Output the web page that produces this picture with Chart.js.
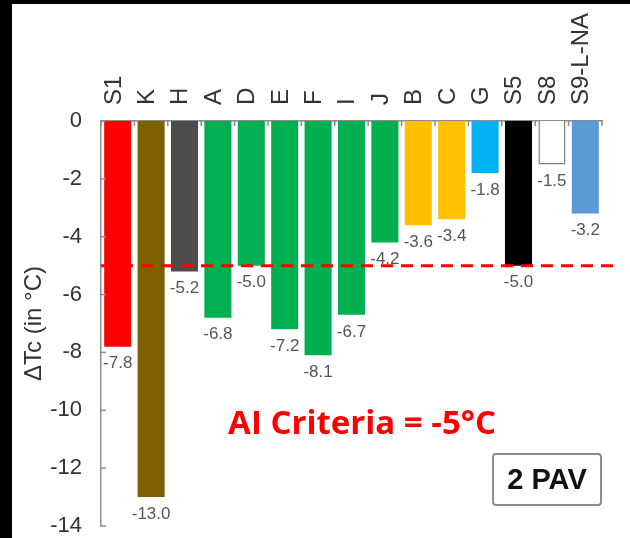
<!DOCTYPE html>
<html>
<head>
<meta charset="utf-8">
<script src="https://cdn.jsdelivr.net/npm/chart.js@4/dist/chart.umd.min.js"></script>
<style>
  html, body { margin: 0; padding: 0; background: #000; width: 630px; height: 538px; overflow: hidden; }
  #wrap { position: absolute; left: 12px; top: 4px; width: 618px; height: 534px; background: #fff; }
  canvas { display: block; }
</style>
</head>
<body>
<div id="wrap"><canvas id="chart" width="618" height="534"></canvas></div>
<script>
// Binder samples along the top axis
const categories = ['S1', 'K', 'H', 'A', 'D', 'E', 'F', 'I', 'J', 'B', 'C', 'G', 'S5', 'S8', 'S9-L-NA'];
// Change in critical temperature after 2 PAV cycles (°C)
const deltaTc = [-7.8, -13.0, -5.2, -6.8, -5.0, -7.2, -8.1, -6.7, -4.2, -3.6, -3.4, -1.8, -5.0, -1.5, -3.2];
const barColors = ['#ff0000', '#7f6000', '#4d4d4d', '#00b050', '#00b050', '#00b050', '#00b050', '#00b050',
                   '#00b050', '#ffc000', '#ffc000', '#00b0f0', '#000000', '#ffffff', '#5b9bd5'];
const barBorders = [0, 0, 0, 0, 0, 0, 0, 0, 0, 0, 0, 0, 0, 1.5, 0];
// y axis range and step
const yMin = -14, yMax = 0, yStep = 2;
// acceptance criterion
const criterion = -5;
const criterionText = 'AI Criteria = -5°C';
const conditionText = '2 PAV';

Chart.defaults.font.family = "'Liberation Sans', Arial, sans-serif";

const overlay = {
  id: 'overlay',
  afterDatasetsDraw(chart) {
    const { ctx, chartArea: a, scales: { x, y } } = chart;
    ctx.save();

    // inward tick marks on the y axis
    ctx.strokeStyle = '#8c8c8c';
    ctx.lineWidth = 1.5;
    y.ticks.forEach(t => {
      const py = y.getPixelForValue(t.value);
      ctx.beginPath();
      ctx.moveTo(a.left, py);
      ctx.lineTo(a.left + 5, py);
      ctx.stroke();
    });
    // category boundary marks hanging from the top axis
    const half = (x.getPixelForTick(1) - x.getPixelForTick(0)) / 2;
    for (let i = 0; i <= categories.length; i++) {
      const px = i < categories.length ? x.getPixelForTick(i) - half : x.getPixelForTick(i - 1) + half;
      ctx.beginPath();
      ctx.moveTo(px, a.top);
      ctx.lineTo(px, a.top + 5);
      ctx.stroke();
    }

    // criterion line
    const cy = y.getPixelForValue(criterion);
    ctx.strokeStyle = '#ff0000';
    ctx.lineWidth = 3;
    ctx.setLineDash([12, 8]);
    ctx.beginPath();
    ctx.moveTo(a.left, cy);
    ctx.lineTo(a.right + 11, cy);
    ctx.stroke();
    ctx.setLineDash([]);

    // value labels under each bar
    ctx.fillStyle = '#555';
    ctx.font = "17px 'Liberation Sans', Arial, sans-serif";
    ctx.textAlign = 'center';
    ctx.textBaseline = 'middle';
    chart.getDatasetMeta(0).data.forEach((bar, i) => {
      ctx.fillText(deltaTc[i].toFixed(1), bar.x, bar.y + 17);
    });

    // criterion note
    ctx.fillStyle = '#ff0000';
    ctx.font = "bold 33px 'Open Sans', sans-serif";
    ctx.textBaseline = 'middle';
    ctx.fillText(criterionText, a.left + (a.right - a.left) * 0.521, y.getPixelForValue(-10.5));

    // condition box
    const bw = 108, bh = 51;
    const bx = a.right - 1 - bw, by = a.bottom - 21 - bh;
    ctx.strokeStyle = '#8c8c8c';
    ctx.lineWidth = 2;
    ctx.beginPath();
    ctx.roundRect(bx, by, bw, bh, 3);
    ctx.stroke();
    ctx.fillStyle = '#111';
    ctx.font = "bold 29px 'Liberation Sans', Arial, sans-serif";
    ctx.fillText(conditionText, bx + bw / 2, by + bh / 2 + 1);

    ctx.restore();
  }
};

new Chart(document.getElementById('chart'), {
  type: 'bar',
  data: {
    labels: categories,
    datasets: [{
      data: deltaTc,
      backgroundColor: barColors,
      borderColor: '#7f7f7f',
      borderWidth: barBorders,
      categoryPercentage: 0.81,
      barPercentage: 1
    }]
  },
  options: {
    responsive: false,
    animation: false,
    devicePixelRatio: 1,
    layout: { padding: { left: 0, right: 28, top: 0, bottom: 12 } },
    plugins: { legend: { display: false }, tooltip: { enabled: false } },
    scales: {
      x: {
        position: 'top',
        offset: true,
        grid: { display: false, drawTicks: false },
        border: { display: true, color: '#8c8c8c', width: 1.5 },
        ticks: {
          autoSkip: false,
          minRotation: 90,
          maxRotation: 90,
          padding: 16,
          labelOffset: 25,
          color: '#333',
          font: { size: 24 }
        },
        afterFit(s) { s.height = 117; s.paddingLeft = 0; s.paddingRight = 0; }
      },
      y: {
        min: yMin,
        max: yMax,
        grid: { display: false, drawTicks: false },
        border: { display: true, color: '#8c8c8c', width: 1.5 },
        ticks: { stepSize: yStep, padding: 19, color: '#333', font: { size: 22 } },
        title: {
          display: true,
          text: 'ΔTc (in °C)',
          color: '#333',
          font: { size: 24 },
          padding: { top: 8, bottom: 0 }
        },
        afterFit(s) { s.width = 89; s.paddingTop = 0; s.paddingBottom = 0; }
      }
    }
  },
  plugins: [overlay]
});
</script>
</body>
</html>
